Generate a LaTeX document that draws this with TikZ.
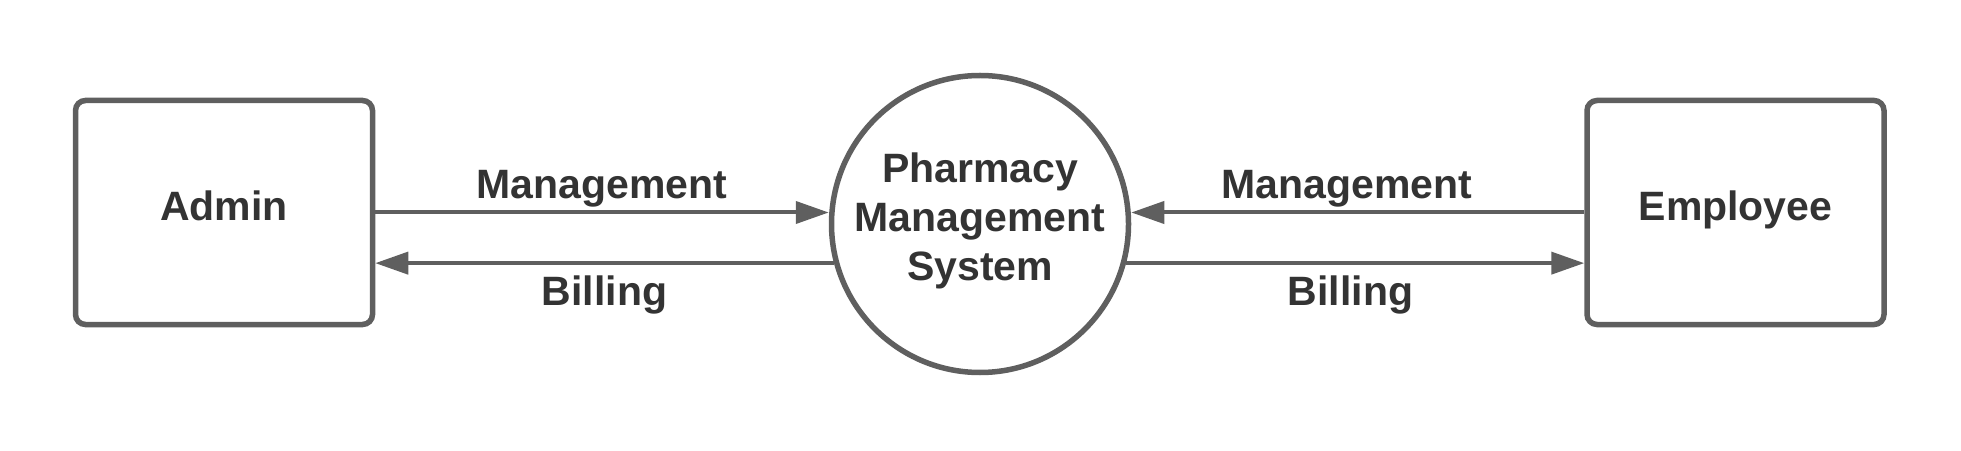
\documentclass[tikz,border=0pt]{standalone}
\usepackage{fontspec}
\setmainfont{Liberation Sans}
\usepackage{tikz}
\usetikzlibrary{arrows.meta}
\usepackage{xcolor}
\definecolor{linegray}{HTML}{5F5F5F}
\definecolor{textgray}{HTML}{333333}

\begin{document}
\begin{tikzpicture}[x=1pt,y=1pt,>={Triangle[length=33pt,width=22pt]},
	entity/.style={draw=linegray,line width=5.5pt,rounded corners=10pt,
		minimum width=297pt,minimum height=224pt,text=textgray,
		text height=30pt,text depth=13pt,
		font=\bfseries\fontsize{41}{50}\selectfont},
	process/.style={circle,draw=linegray,line width=5.5pt,minimum size=297pt,
		inner sep=0pt},
	proclabel/.style={inner sep=0pt,align=center,text=textgray,
		font=\bfseries\fontsize{41}{49}\selectfont},
	flow/.style={->,draw=linegray,line width=4pt},
	flowlabel/.style={inner sep=0pt,text=textgray,
		font=\bfseries\fontsize{41}{50}\selectfont}]
		
		\useasboundingbox (0,0) rectangle (1961,450);
		
		% External entities and the process
		\node[entity] (admin) at (224,237.5) {Admin};
		\node[process] (pms) at (980,226) {};
		\node[proclabel] (pmstext) at ([yshift=3pt]pms.center) {Pharmacy\\Management\\System};
		\node[entity] (employee) at (1735.5,237.5) {Employee};
		
		% Admin <-> system
		\draw[flow] (admin.east) -- (admin.east -| pms.west)
		node[flowlabel,midway,above=3pt] {Management};
		\draw[flow] (pms.195) -- (pms.195 -| admin.east)
		node[flowlabel,midway,below=11pt] {Billing};
		
		% Employee <-> system
		\draw[flow] (employee.west) -- (employee.west -| pms.east)
		node[flowlabel,pos=0.524,above=3pt] {Management};
		\draw[flow] (pms.-15) -- (pms.-15 -| employee.west)
		node[flowlabel,pos=0.49,below=11pt] {Billing};
		
	\end{tikzpicture}
\end{document}
